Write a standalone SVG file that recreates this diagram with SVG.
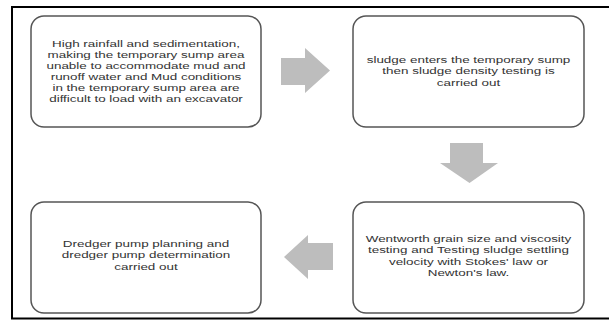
<svg xmlns="http://www.w3.org/2000/svg" width="609" height="320" viewBox="0 0 609 320">
<style>
.frame{fill:none;stroke:#000;stroke-width:2}
.box{fill:#fff;stroke:#555;stroke-width:1.5}
.arrow{fill:#bdbdbd;stroke:none}
text{font-family:"Liberation Sans",Arial,sans-serif;font-size:9.6px;fill:#333;text-anchor:middle}
</style>
<rect width="609" height="320" fill="#fff"/>
<path class="frame" d="M609,7 H12 V318.5 H609"/>
<g id="node1">
<rect class="box" x="31" y="16" width="230" height="111" rx="13"/>
<g transform="translate(146,0) scale(1.4,1)">
<text x="0" y="47">High rainfall and sedimentation,</text>
<text x="0" y="58">making the temporary sump area</text>
<text x="0" y="69">unable to accommodate mud and</text>
<text x="0" y="80">runoff water and Mud conditions</text>
<text x="0" y="91">in the temporary sump area are</text>
<text x="0" y="102">difficult to load with an excavator</text>
</g>
</g>
<g id="node2">
<rect class="box" x="353" y="16" width="231" height="111" rx="13"/>
<g transform="translate(468.5,0) scale(1.4,1)">
<text x="0" y="63">sludge enters the temporary sump</text>
<text x="0" y="74.5">then sludge density testing is</text>
<text x="0" y="86">carried out</text>
</g>
</g>
<g id="node3">
<rect class="box" x="353" y="202" width="231" height="111" rx="13"/>
<g transform="translate(468.5,0) scale(1.4,1)">
<text x="0" y="242">Wentworth grain size and viscosity</text>
<text x="0" y="253.5">testing and Testing sludge settling</text>
<text x="0" y="265">velocity with Stokes' law or</text>
<text x="0" y="276.5">Newton's law.</text>
</g>
</g>
<g id="node4">
<rect class="box" x="31" y="202" width="230" height="111" rx="13"/>
<g transform="translate(146,0) scale(1.4,1)">
<text x="0" y="247">Dredger pump planning and</text>
<text x="0" y="258.5">dredger pump determination</text>
<text x="0" y="270">carried out</text>
</g>
</g>
<g id="connectors">
<polygon class="arrow" points="281,58 305,58 305,48 330,70.5 305,93 305,85 281,85"/>
<polygon class="arrow" points="450,143 483,143 483,163 498,163 469.5,183 440,163 450,163"/>
<polygon class="arrow" points="333,243 308,243 308,235 284,257 308,279 308,270 333,270"/>
</g>
</svg>
